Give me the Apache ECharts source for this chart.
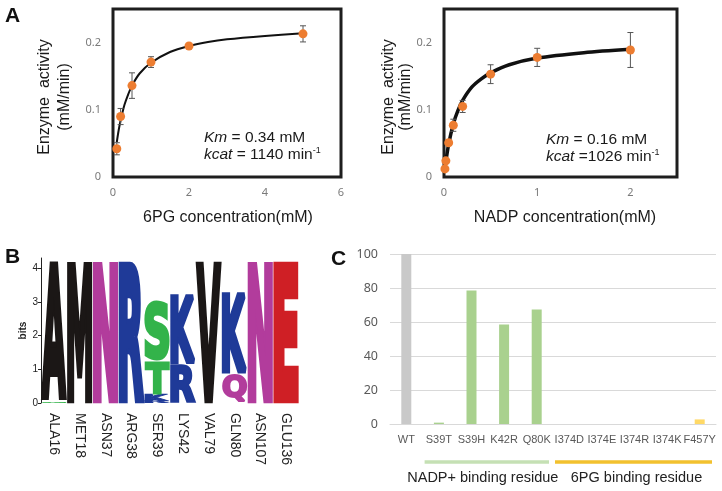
<!DOCTYPE html>
<html><head><meta charset="utf-8">
<script src="https://cdn.jsdelivr.net/npm/echarts@6/dist/echarts.min.js"></script>
<style>html,body{margin:0;padding:0;background:#fff}#c{width:722px;height:491px}</style>
</head><body><div id="c"></div>
<script>
// ---- Panel A (left): 6PG kinetics ----
const pg6Conc = [0.1, 0.2, 0.5, 1, 2, 5];
const pg6Activity = [0.042, 0.090, 0.136, 0.171, 0.195, 0.213];
const pg6Err = [0.009, 0.012, 0.019, 0.008, 0.003, 0.012];
const pg6FitConc = [0.1, 0.15, 0.2, 0.3, 0.4, 0.5, 0.7, 1, 1.5, 2, 2.5, 3, 4, 5];
const pg6FitRate = [0.052, 0.070, 0.084, 0.107, 0.123, 0.136, 0.154, 0.170, 0.186, 0.195, 0.201, 0.205, 0.210, 0.214];
// ---- Panel A (right): NADP kinetics ----
const nadpConc = [0.01, 0.02, 0.05, 0.1, 0.2, 0.5, 1, 2];
const nadpActivity = [0.012, 0.024, 0.051, 0.077, 0.105, 0.153, 0.178, 0.189];
const nadpErr = [0, 0, 0.004, 0.009, 0.009, 0.014, 0.0135, 0.026];
const nadpFitConc = [0.01, 0.02, 0.05, 0.1, 0.15, 0.2, 0.3, 0.4, 0.5, 0.7, 1, 1.5, 2];
const nadpFitRate = [0.012, 0.023, 0.049, 0.079, 0.099, 0.114, 0.134, 0.146, 0.155, 0.167, 0.177, 0.185, 0.190];
// ---- Panel B: sequence logo (letters bottom -> top, height in bits) ----
const logoPositions = ['ALA16', 'MET18', 'ASN37', 'ARG38', 'SER39', 'LYS42', 'VAL79', 'GLN80', 'ASN107', 'GLU136'];
const logoStacks = [
  [['G', 0.04], ['A', 4.14]],
  [['M', 4.2]],
  [['N', 4.2]],
  [['R', 4.2]],
  [['R', 0.06], ['K', 0.2], ['T', 1.0], ['S', 1.8]],
  [['R', 1.15], ['K', 2.05]],
  [['V', 4.2]],
  [['Q', 0.88], ['K', 2.42]],
  [['N', 4.2]],
  [['E', 4.2]]
];
// ---- Panel C: mutant activity (%) ----
const mutCategories = ['WT', 'S39T', 'S39H', 'K42R', 'Q80K', 'I374D', 'I374E', 'I374R', 'I374K', 'F457Y'];
const mutActivity = [100, 0.8, 78.5, 58.5, 67.3, 0, 0, 0, 0, 2.7];
const mutGroup = ['wt', 'nadp', 'nadp', 'nadp', 'nadp', 'pg', 'pg', 'pg', 'pg', 'pg'];
const groupNames = ['NADP+ binding residue', '6PG binding residue'];
const groupFrom = [1, 5];
const groupTo = [4, 9];

const letterColor = {A:'#1b1716', M:'#1b1716', V:'#1b1716', N:'#b23c9c', Q:'#b23c9c', R:'#1f3a98', K:'#1f3a98', S:'#33b34a', T:'#33b34a', G:'#33b34a', E:'#cf1f25'};
const groupColor = {wt:'#c9c9c9', nadp:'#a9d18e', pg:'#ffd966'};
const groupLineColor = ['#c5e0b4', '#f2c12e'];
const groupTextShift = [-4, 3];

const LOGO_FONT_FAMILY = 'DejaVu Sans';
const LOGO_F = 100;
const LOGO_STROKE = 7;
const measCtx = document.createElement('canvas').getContext('2d');
const inkCache = {};
function inkBox(l) {
  if (!inkCache[l]) {
    measCtx.font = 'bold ' + LOGO_F + 'px "' + LOGO_FONT_FAMILY + '"';
    measCtx.textAlign = 'center';
    measCtx.textBaseline = 'middle';
    const m = measCtx.measureText(l);
    const h = LOGO_STROKE / 2;
    inkCache[l] = {l:m.actualBoundingBoxLeft + h, r:m.actualBoundingBoxRight + h, a:m.actualBoundingBoxAscent + h, d:m.actualBoundingBoxDescent + h};
  }
  return inkCache[l];
}

const logoFlat = [];
logoStacks.forEach((st, col) => {
  let base = 0;
  st.forEach(([l, h]) => { logoFlat.push({col, letter:l, y0:base, y1:base + h}); base += h; });
});

const FF = 'Liberation Sans, Arial, sans-serif';
const tickFont = {fontFamily:'Noto Sans, sans-serif', fontSize:11, color:'#7a7a7a'};

function errRender(params, api) {
  const x = api.value(0), y = api.value(1), e = api.value(2);
  if (!e) return null;
  const top = api.coord([x, y + e]), bot = api.coord([x, y - e]);
  const s = {stroke:'#555', lineWidth:1};
  return {type:'group', children:[
    {type:'line', shape:{x1:top[0], y1:top[1], x2:bot[0], y2:bot[1]}, style:s},
    {type:'line', shape:{x1:top[0]-3, y1:top[1], x2:top[0]+3, y2:top[1]}, style:s},
    {type:'line', shape:{x1:bot[0]-3, y1:bot[1], x2:bot[0]+3, y2:bot[1]}, style:s}
  ]};
}

function logoRender(params, api) {
  const d = logoFlat[params.dataIndex];
  const p0 = api.coord([d.col, d.y0]);
  const p1 = api.coord([d.col, d.y1]);
  const bw = api.size([1, 0])[0] * 0.98;
  const xL = p0[0] - bw / 2;
  const yT = p1[1], yB = p0[1];
  const b = inkBox(d.letter);
  const sx = bw / (b.l + b.r);
  const sy = (yB - yT) / (b.a + b.d);
  return {
    type:'text', x:xL + sx * b.l, y:yT + sy * b.a, scaleX:sx, scaleY:sy,
    style:{text:d.letter, fontSize:LOGO_F, fontWeight:'bold', fontFamily:LOGO_FONT_FAMILY, fill:letterColor[d.letter],
      stroke:letterColor[d.letter], lineWidth:LOGO_STROKE, lineJoin:'miter', align:'center', verticalAlign:'middle'}
  };
}

function groupRender(params, api) {
  const i = params.dataIndex;
  const c0 = api.coord([api.value(0), 0]);
  const c1 = api.coord([api.value(1), 0]);
  const bw = api.size([1, 0])[0];
  const x0 = c0[0] - bw / 2 + 2, x1 = c1[0] + bw / 2 - 4, y = c0[1] + 38;
  return {type:'group', children:[
    {type:'line', shape:{x1:x0, y1:y, x2:x1, y2:y}, style:{stroke:groupLineColor[i], lineWidth:3.5}},
    {type:'text', x:(x0 + x1) / 2 + groupTextShift[i], y:y + 16, style:{text:groupNames[i], fontSize:14.5, fontFamily:FF, fill:'#222', align:'center', verticalAlign:'middle'}}
  ]};
}

const chart = echarts.init(document.getElementById('c'));
const kinX = (min, max, interval, showMax) => ({type:'value', min, max, interval, axisLine:{show:false}, axisTick:{show:false}, splitLine:{show:false},
  axisLabel:Object.assign({margin:10, showMaxLabel:showMax}, tickFont)});
const kinY = () => ({type:'value', min:0, max:0.25, interval:0.1, axisLine:{show:false}, axisTick:{show:false}, splitLine:{show:false},
  axisLabel:Object.assign({margin:12, showMaxLabel:false}, tickFont)});

chart.setOption({
  animation:false,
  backgroundColor:'#fff',
  grid:[
    {left:113, top:9, width:228, height:168, show:true, borderColor:'#1e1e1e', borderWidth:3},
    {left:444, top:9, width:233, height:168, show:true, borderColor:'#1e1e1e', borderWidth:3},
    {left:41, top:258, width:258, height:145},
    {left:390, top:254, width:326, height:170}
  ],
  xAxis:[
    Object.assign({gridIndex:0}, kinX(0, 6, 2, true)),
    Object.assign({gridIndex:1}, kinX(0, 2.5, 1, false)),
    {gridIndex:2, type:'category', data:logoPositions, axisLine:{show:false}, axisTick:{show:false},
      axisLabel:{interval:0, rotate:-90, margin:10, fontSize:14, fontFamily:FF, color:'#222'}},
    {gridIndex:3, type:'category', data:mutCategories, axisLine:{lineStyle:{color:'#d9d9d9'}}, axisTick:{show:false},
      axisLabel:{interval:0, margin:10, fontSize:11, fontFamily:FF, color:'#595959'}}
  ],
  yAxis:[
    Object.assign({gridIndex:0}, kinY()),
    Object.assign({gridIndex:1}, kinY()),
    {gridIndex:2, type:'value', min:0, max:4.3, interval:1, splitLine:{show:false},
      axisLine:{show:true, lineStyle:{color:'#222', width:1}}, axisTick:{show:true, length:3, lineStyle:{color:'#222'}},
      axisLabel:{showMaxLabel:false, margin:3, fontSize:10, fontFamily:FF, color:'#222'},
      name:'bits', nameLocation:'middle', nameRotate:90, nameGap:10, nameTextStyle:{fontSize:10, fontWeight:'bold', fontFamily:FF, color:'#222'}},
    {gridIndex:3, type:'value', min:0, max:100, interval:20, axisLine:{show:false}, axisTick:{show:false},
      splitLine:{lineStyle:{color:'#d9d9d9'}},
      axisLabel:{margin:12, fontSize:12.5, fontFamily:'Noto Sans, sans-serif', color:'#595959'}}
  ],
  series:[
    {type:'line', xAxisIndex:0, yAxisIndex:0, data:pg6FitConc.map((x, i) => [x, pg6FitRate[i]]), smooth:0.3, symbol:'none', lineStyle:{color:'#111', width:2}, z:2},
    {type:'custom', xAxisIndex:0, yAxisIndex:0, data:pg6Conc.map((x, i) => [x, pg6Activity[i], pg6Err[i]]), renderItem:errRender, z:3},
    {type:'scatter', xAxisIndex:0, yAxisIndex:0, data:pg6Conc.map((x, i) => [x, pg6Activity[i]]), symbolSize:9, itemStyle:{color:'#ed7d31', opacity:1}, z:4},
    {type:'line', xAxisIndex:1, yAxisIndex:1, data:nadpFitConc.map((x, i) => [x, nadpFitRate[i]]), smooth:0.3, symbol:'none', lineStyle:{color:'#111', width:3.5}, z:2},
    {type:'custom', xAxisIndex:1, yAxisIndex:1, data:nadpConc.map((x, i) => [x, nadpActivity[i], nadpErr[i]]), renderItem:errRender, z:3},
    {type:'scatter', xAxisIndex:1, yAxisIndex:1, data:nadpConc.map((x, i) => [x, nadpActivity[i]]), symbolSize:9, itemStyle:{color:'#ed7d31', opacity:1}, z:4},
    {type:'custom', xAxisIndex:2, yAxisIndex:2, data:logoFlat.map(d => [d.col, d.y0, d.y1]), renderItem:logoRender, clip:false},
    {type:'bar', xAxisIndex:3, yAxisIndex:3, barWidth:10,
      data:mutActivity.map((v, i) => ({value:v, itemStyle:{color:groupColor[mutGroup[i]]}}))},
    {type:'custom', xAxisIndex:3, yAxisIndex:3, data:groupFrom.map((f, i) => [f, groupTo[i]]), renderItem:groupRender, clip:false}
  ],
  graphic:[
    {type:'text', left:5, top:6, style:{text:'A', fontSize:21, fontWeight:'bold', fontFamily:FF, fill:'#111'}},
    {type:'text', left:5, top:247, style:{text:'B', fontSize:21, fontWeight:'bold', fontFamily:FF, fill:'#111'}},
    {type:'text', left:331, top:249, style:{text:'C', fontSize:21, fontWeight:'bold', fontFamily:FF, fill:'#111'}},
    {type:'text', x:55, y:97, rotation:Math.PI / 2, style:{text:'Enzyme  activity\n(mM/min)', fontSize:16, lineHeight:20, fontFamily:FF, fill:'#1a1a1a', align:'center', verticalAlign:'middle'}},
    {type:'text', x:397, y:97, rotation:Math.PI / 2, style:{text:'Enzyme  activity\n(mM/min)', fontSize:16, lineHeight:17, fontFamily:FF, fill:'#1a1a1a', align:'center', verticalAlign:'middle'}},
    {type:'text', x:228, y:218, style:{text:'6PG concentration(mM)', fontSize:16, fontFamily:FF, fill:'#1a1a1a', align:'center', verticalAlign:'middle'}},
    {type:'text', x:565, y:218, style:{text:'NADP concentration(mM)', fontSize:16, fontFamily:FF, fill:'#1a1a1a', align:'center', verticalAlign:'middle'}},
    {type:'text', x:204, y:129, style:{text:'{i|Km} = 0.34 mM\n{i|kcat} = 1140 min{s|-1}', fontSize:15.5, lineHeight:17, fontFamily:FF, fill:'#1a1a1a',
      rich:{i:{fontStyle:'italic', fontSize:15.5, fontFamily:FF, fill:'#1a1a1a'}, s:{fontSize:9, verticalAlign:'top', fontFamily:FF, fill:'#1a1a1a'}}}},
    {type:'text', x:546, y:131, style:{text:'{i|Km} = 0.16 mM\n{i|kcat} =1026 min{s|-1}', fontSize:15.5, lineHeight:17, fontFamily:FF, fill:'#1a1a1a',
      rich:{i:{fontStyle:'italic', fontSize:15.5, fontFamily:FF, fill:'#1a1a1a'}, s:{fontSize:9, verticalAlign:'top', fontFamily:FF, fill:'#1a1a1a'}}}}
  ]
});
</script></body></html>
